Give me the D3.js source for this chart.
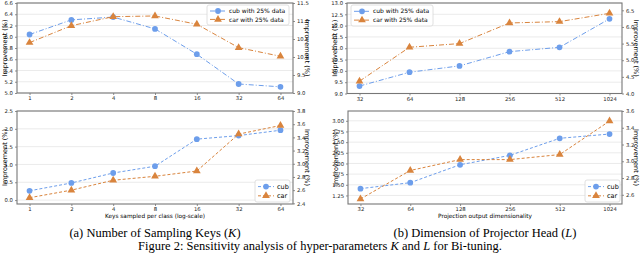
<!DOCTYPE html>
<html>
<head>
<meta charset="utf-8">
<script src="https://cdn.jsdelivr.net/npm/d3@7"></script>
<style>
  body { margin: 0; background: #fff; }
  svg { display: block; }
</style>
</head>
<body>
<svg id="fig" width="640" height="254"></svg>
<script>
// ---- data ----
const keys = [1, 2, 4, 8, 16, 32, 64];
const dims = [32, 64, 128, 256, 512, 1024];

// (a) top: 25% data
const keysCub25 = [6.04, 6.30, 6.35, 6.14, 5.69, 5.16, 5.11];
const keysCar25 = [10.40, 10.87, 11.12, 11.14, 10.91, 10.26, 10.02];
// (a) bottom: full data
const keysCub = [0.26, 0.48, 0.76, 0.95, 1.71, 1.81, 1.96];
const keysCar = [2.485, 2.60, 2.75, 2.81, 2.89, 3.45, 3.58];

// (b) top: 25% data
const dimsCub25 = [9.33, 9.94, 10.22, 10.85, 11.04, 12.30];
const dimsCar25 = [4.37, 5.39, 5.50, 6.12, 6.16, 6.41];
// (b) bottom: full data
const dimsCub = [1.41, 1.55, 1.97, 2.19, 2.59, 2.69];
const dimsCar = [2.55, 2.89, 3.02, 3.02, 3.08, 3.48];

const ticksA1L = [5.0, 5.2, 5.4, 5.6, 5.8, 6.0, 6.2, 6.4, 6.6];
const ticksA1R = [9.0, 9.5, 10.0, 10.5, 11.0, 11.5];
const ticksA2L = [0.0, 0.5, 1.0, 1.5, 2.0, 2.5];
const ticksA2R = [2.4, 2.6, 2.8, 3.0, 3.2, 3.4, 3.6, 3.8];
const ticksB1L = [9.0, 9.5, 10.0, 10.5, 11.0, 11.5, 12.0, 12.5, 13.0];
const ticksB1R = [4.0, 4.5, 5.0, 5.5, 6.0, 6.5];
const ticksB2L = [1.25, 1.50, 1.75, 2.00, 2.25, 2.50, 2.75, 3.00];
const ticksB2R = [2.6, 2.8, 3.0, 3.2, 3.4, 3.6];

const BLUE = "#6d9eeb";
const ORANGE = "#d9843d";
const FONT = "DejaVu Sans, sans-serif";

const svg = d3.select("#fig");

function panel(cfg) {
    const g = svg.append("g");
    const n = cfg.cats.length;
    const x = d3.scaleLinear()
        .domain([-0.05 * (n - 1), (n - 1) * 1.05])
        .range([cfg.left, cfg.right]);
    const yL = d3.scaleLinear().domain(cfg.domL).range([cfg.bottom, cfg.top]);
    const yR = d3.scaleLinear().domain(cfg.domR).range([cfg.bottom, cfg.top]);

    // grid on left ticks
    g.append("g").selectAll("line")
        .data(cfg.ticksL)
        .join("line")
        .attr("x1", cfg.left).attr("x2", cfg.right)
        .attr("y1", d => yL(d)).attr("y2", d => yL(d))
        .attr("stroke", "#e6e6e6").attr("stroke-width", 0.8);

    const xAxis = d3.axisBottom(x)
        .tickValues(d3.range(n))
        .tickFormat(i => cfg.cats[i])
        .tickSize(2).tickPadding(1.5);
    const lAxis = d3.axisLeft(yL).tickValues(cfg.ticksL)
        .tickFormat(d3.format(cfg.fmtL)).tickSize(2).tickPadding(2);
    const rAxis = d3.axisRight(yR).tickValues(cfg.ticksR)
        .tickFormat(d3.format(cfg.fmtR)).tickSize(2).tickPadding(2);

    const ax = [
        g.append("g").attr("transform", `translate(0,${cfg.bottom})`).call(xAxis),
        g.append("g").attr("transform", `translate(${cfg.left},0)`).call(lAxis),
        g.append("g").attr("transform", `translate(${cfg.right},0)`).call(rAxis)
    ];
    ax.forEach(a => {
        a.select(".domain").remove();
        a.selectAll("line").attr("stroke", "#444").attr("stroke-width", 0.6);
        a.selectAll("text").attr("font-family", FONT).attr("font-size", 5.3).attr("fill", "#222");
    });

    // frame
    g.append("rect")
        .attr("x", cfg.left).attr("y", cfg.top)
        .attr("width", cfg.right - cfg.left).attr("height", cfg.bottom - cfg.top)
        .attr("fill", "none").attr("stroke", "#777").attr("stroke-width", 1.1);

    // axis labels
    const midY = (cfg.top + cfg.bottom) / 2;
    g.append("text")
        .attr("transform", `translate(${cfg.left - 10.5},${midY}) rotate(-90)`)
        .attr("text-anchor", "middle").attr("font-family", FONT).attr("font-size", 6.5)
        .text("Improvement (%)");
    g.append("text")
        .attr("transform", `translate(${cfg.right + 12},${midY}) rotate(90)`)
        .attr("text-anchor", "middle").attr("font-family", FONT).attr("font-size", 6.5)
        .text("Improvement (%)");
    if (cfg.xlabel) {
        g.append("text")
            .attr("x", (cfg.left + cfg.right) / 2).attr("y", cfg.bottom + 14)
            .attr("text-anchor", "middle").attr("font-family", FONT).attr("font-size", 5.8)
            .text(cfg.xlabel);
    }

    const series = [
        { vals: cfg.cub, y: yL, color: BLUE, shape: d3.symbolCircle, name: cfg.names[0] },
        { vals: cfg.car, y: yR, color: ORANGE, shape: d3.symbolTriangle, name: cfg.names[1] }
    ];
    series.forEach(s => {
        const line = d3.line().x((d, i) => x(i)).y(d => s.y(d));
        g.append("path")
            .attr("d", line(s.vals))
            .attr("fill", "none").attr("stroke", s.color).attr("stroke-width", 1)
            .attr("stroke-dasharray", cfg.dash);
        g.append("g").selectAll("path")
            .data(s.vals)
            .join("path")
            .attr("transform", (d, i) => `translate(${x(i)},${s.y(d)})`)
            .attr("d", d3.symbol().type(s.shape).size(26))
            .attr("fill", s.color);
    });

    // legend
    const lg = cfg.legend;
    g.append("rect")
        .attr("x", lg.x).attr("y", lg.y).attr("width", lg.w).attr("height", lg.h)
        .attr("rx", 2).attr("fill", "#fff").attr("fill-opacity", 0.85)
        .attr("stroke", "#d8d8d8").attr("stroke-width", 0.8);
    series.forEach((s, k) => {
        const yy = lg.y + lg.h * (k === 0 ? 0.3 : 0.72);
        g.append("line")
            .attr("x1", lg.x + 3).attr("x2", lg.x + 19)
            .attr("y1", yy).attr("y2", yy)
            .attr("stroke", s.color).attr("stroke-width", 1)
            .attr("stroke-dasharray", cfg.dash);
        g.append("path")
            .attr("transform", `translate(${lg.x + 11},${yy})`)
            .attr("d", d3.symbol().type(s.shape).size(26))
            .attr("fill", s.color);
        g.append("text")
            .attr("x", lg.x + 22).attr("y", yy).attr("dy", "0.35em")
            .attr("font-family", FONT).attr("font-size", lg.fs)
            .text(s.name);
    });
}

const names25 = ["cub with 25% data", "car with 25% data"];

panel({ cats: keys, left: 17, right: 293, top: 3, bottom: 93,
    domL: [5.0, 6.6], domR: [9.0, 11.5], ticksL: ticksA1L, ticksR: ticksA1R,
    fmtL: ".1f", fmtR: ".1f", cub: keysCub25, car: keysCar25, dash: "5,2,1,2",
    names: names25, legend: { x: 207, y: 5, w: 82, h: 20, fs: 6 } });

panel({ cats: keys, left: 17, right: 293, top: 111, bottom: 204,
    domL: [-0.11, 2.5], domR: [2.39, 3.8], ticksL: ticksA2L, ticksR: ticksA2R,
    fmtL: ".1f", fmtR: ".1f", cub: keysCub, car: keysCar, dash: "3,2",
    xlabel: "Keys sampled per class (log-scale)",
    names: ["cub", "car"], legend: { x: 255, y: 180, w: 35, h: 22, fs: 6.5 } });

panel({ cats: dims, left: 347, right: 622, top: 3, bottom: 93.5,
    domL: [9.0, 13.0], domR: [4.0, 6.72], ticksL: ticksB1L, ticksR: ticksB1R,
    fmtL: ".1f", fmtR: ".1f", cub: dimsCub25, car: dimsCar25, dash: "5,2,1,2",
    names: names25, legend: { x: 351, y: 5, w: 82, h: 21, fs: 6 } });

panel({ cats: dims, left: 348, right: 622, top: 111, bottom: 204,
    domL: [1.05, 3.23], domR: [2.49, 3.6], ticksL: ticksB2L, ticksR: ticksB2R,
    fmtL: ".2f", fmtR: ".1f", cub: dimsCub, car: dimsCar, dash: "3,2",
    xlabel: "Projection output dimensionality",
    names: ["cub", "car"], legend: { x: 585, y: 180, w: 35, h: 22, fs: 6.5 } });

// captions
const SERIF = "Liberation Serif, Times New Roman, serif";
function caption(cx, cy, parts) {
    const t = svg.append("text").attr("x", cx).attr("y", cy)
        .attr("text-anchor", "middle").attr("font-family", SERIF).attr("font-size", 12.5);
    parts.forEach(p => t.append("tspan").attr("font-style", p[1] ? "italic" : null).text(p[0]));
}
caption(155, 237, [["(a) Number of Sampling Keys ("], ["K", true], [")"]]);
caption(485, 237, [["(b) Dimension of Projector Head ("], ["L", true], [")"]]);
caption(320, 250, [["Figure 2: Sensitivity analysis of hyper-parameters "], ["K", true],
    [" and "], ["L", true], [" for Bi-tuning."]]);
</script>
</body>
</html>
